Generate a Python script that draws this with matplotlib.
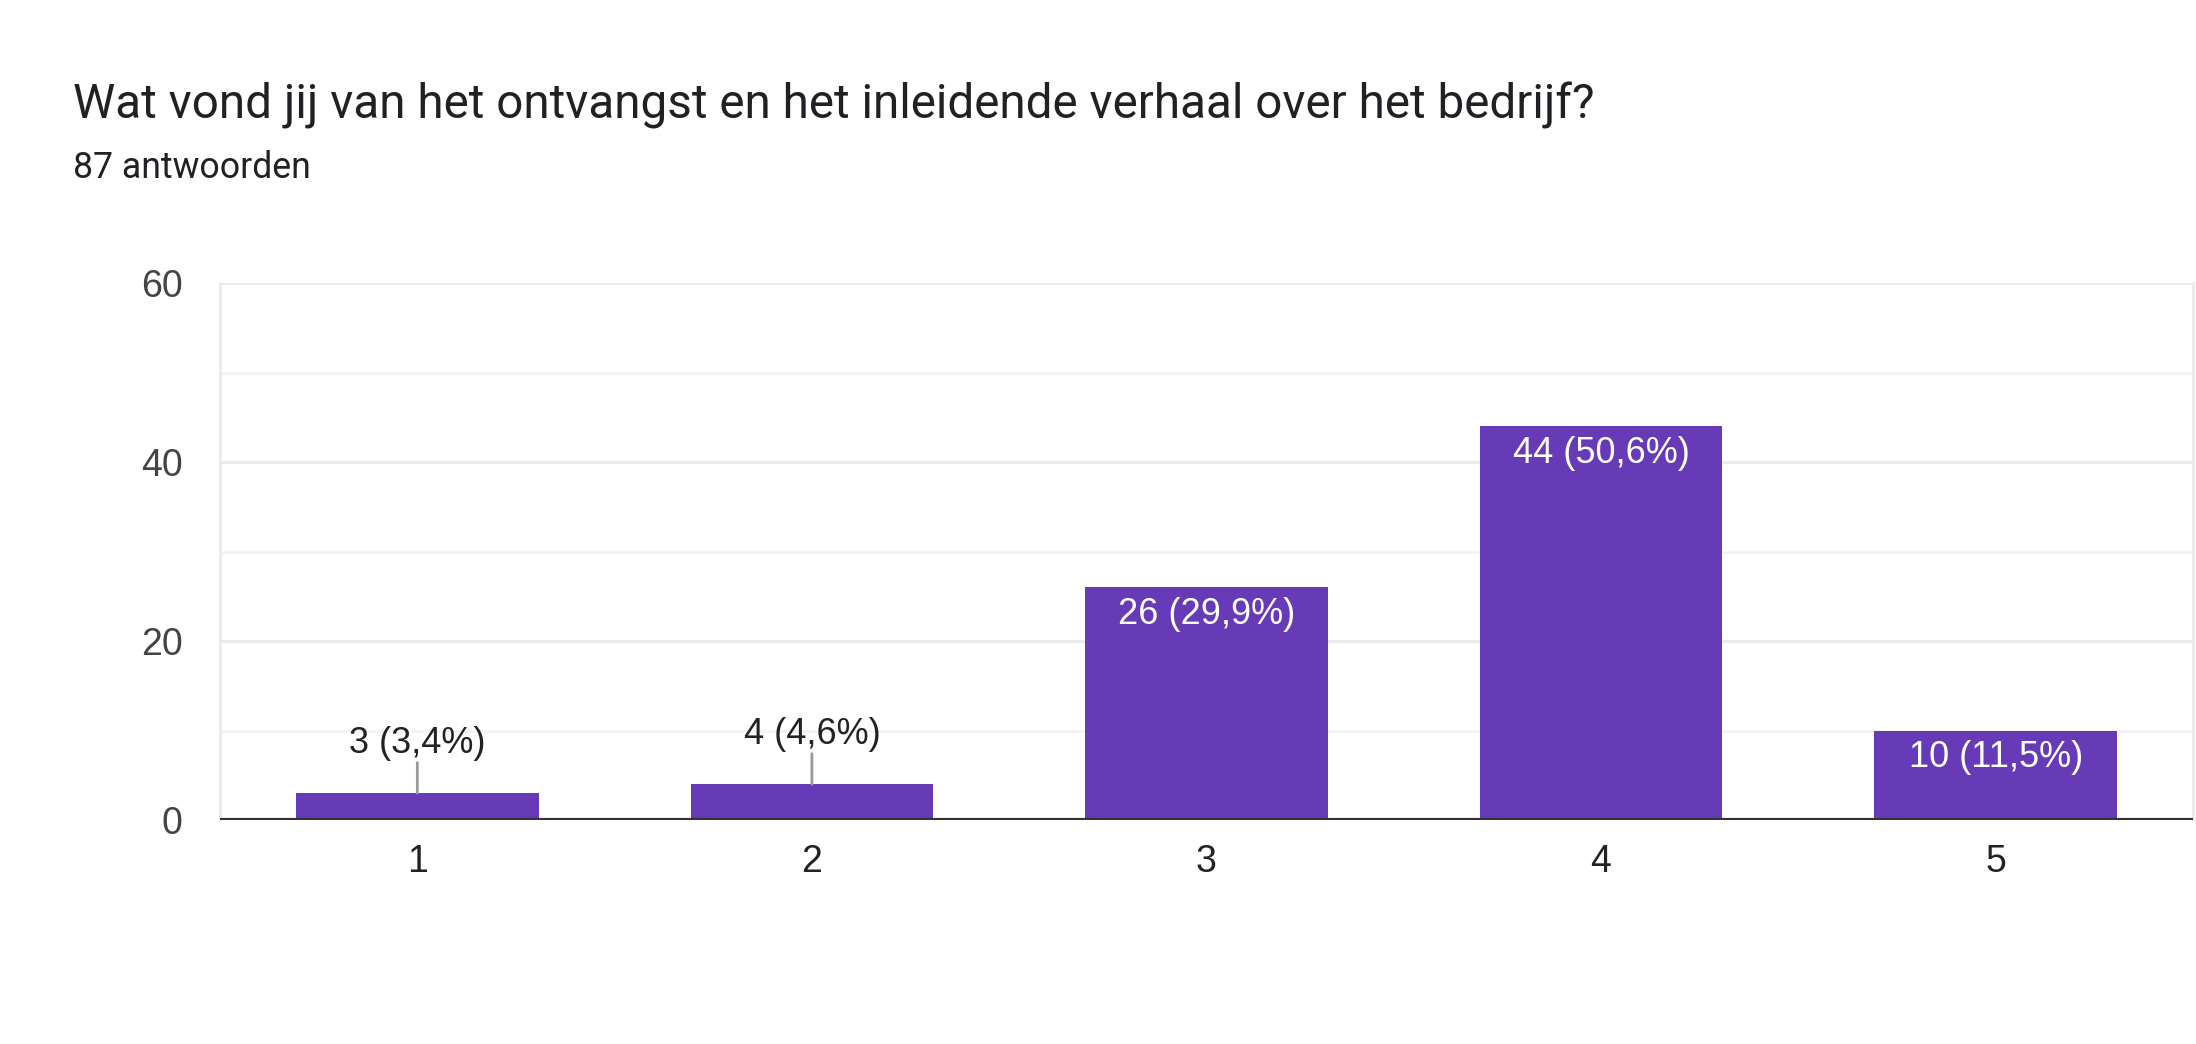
import matplotlib.pyplot as plt

# Chart data
categories = ['1', '2', '3', '4', '5']
counts = [3, 4, 26, 44, 10]
percents = ['3,4%', '4,6%', '29,9%', '50,6%', '11,5%']
y_ticks = [0, 20, 40, 60]
y_minor = [10, 30, 50]

title = 'Wat vond jij van het ontvangst en het inleidende verhaal over het bedrijf?'
subtitle = '87 antwoorden'

PURPLE = '#673ab7'
ARIAL = ['Liberation Sans', 'DejaVu Sans']


def main():
    fig = plt.figure(figsize=(21.96, 10.44), dpi=100)
    ax = fig.add_axes([0.1002, 0.2145, 0.8984, 0.5144])

    x = list(range(len(categories)))
    ax.bar(x, counts, width=0.615, color=PURPLE, zorder=3)

    ax.set_xlim(-0.5, len(categories) - 0.5)
    ax.set_ylim(0, 60)

    # grid lines
    for v in y_ticks[1:]:
        ax.axhline(v, color='#ebebeb', lw=2.2, zorder=1)
    for v in y_minor:
        ax.axhline(v, color='#f3f3f3', lw=2.0, zorder=1)
    ax.axhline(0, color='#333333', lw=3, zorder=4)

    for side in ['top', 'bottom']:
        ax.spines[side].set_visible(False)
    for side in ['left', 'right']:
        ax.spines[side].set_color('#ebebeb')
        ax.spines[side].set_linewidth(2.2)

    ax.set_yticks(y_ticks)
    ax.set_yticklabels([str(t) for t in y_ticks], family=ARIAL, fontsize=27,
                       color='#444444')
    ax.set_xticks(x)
    ax.set_xticklabels(categories, family=ARIAL, fontsize=27, color='#222222')
    ax.tick_params(axis='y', length=0, pad=27)
    ax.tick_params(axis='x', length=0, pad=17)

    # value labels
    for xi, v, p in zip(x, counts, percents):
        label = f'{v} ({p})'
        if v > 6:
            ax.annotate(label, xy=(xi, v), xytext=(0, -19.5),
                        textcoords='offset points', ha='center', va='center',
                        family=ARIAL, fontsize=26, color='white', zorder=5)
        else:
            ax.annotate('', xy=(xi, v), xytext=(0, 22),
                        textcoords='offset points',
                        arrowprops=dict(arrowstyle='-', color='#999999', lw=2,
                                        shrinkA=0, shrinkB=0), zorder=5)
            ax.annotate(label, xy=(xi, v), xytext=(0, 36),
                        textcoords='offset points', ha='center', va='center',
                        family=ARIAL, fontsize=26, color='#222222', zorder=5)

    fig.text(0.0332, 0.899, title, family=['Roboto', 'DejaVu Sans'],
             fontsize=34.3, color='#202124', va='center', ha='left')
    fig.text(0.0332, 0.839, subtitle, family=['Roboto', 'DejaVu Sans'],
             fontsize=25.7, color='#202124', va='center', ha='left')

    fig.savefig('out.png', dpi=100, facecolor='white')


if __name__ == "__main__":
    main()
